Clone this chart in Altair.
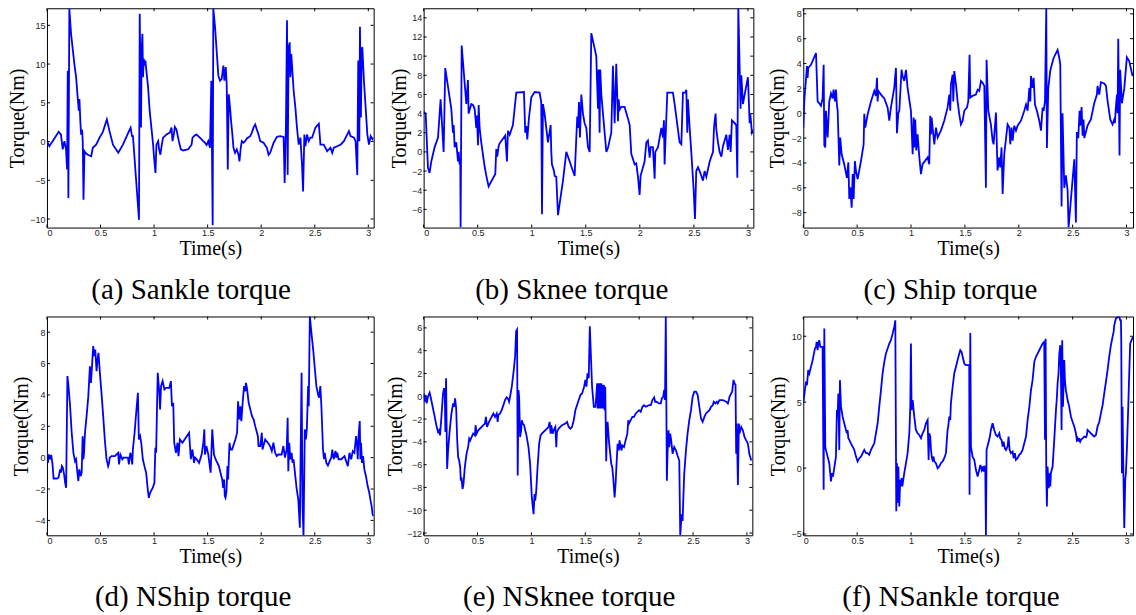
import altair as alt
import pandas as pd

# ---------------- data ----------------
X_TICKS = [0, 0.5, 1, 1.5, 2, 2.5, 3]

A_T = [0,0.022,0.053,0.109,0.131,0.147,0.163,0.178,0.188,0.194,0.2,0.209,0.225,0.256,0.272,0.288,0.297,0.303,0.313,0.319,0.328,0.334,0.341,0.35,0.359,0.381,0.413,0.428,0.459,0.491,0.522,0.559,0.584,0.616,0.666,0.709,0.772,0.781,0.794,0.803,0.859,0.866,0.878,0.884,0.891,0.897,0.903,0.913,0.919,0.928,0.944,0.959,0.975,0.991,1.0,1.013,1.022,1.038,1.047,1.059,1.072,1.084,1.116,1.147,1.163,1.172,1.184,1.194,1.209,1.231,1.25,1.272,1.319,1.35,1.359,1.381,1.397,1.428,1.459,1.475,1.491,1.506,1.522,1.534,1.541,1.547,1.553,1.569,1.584,1.6,1.616,1.631,1.647,1.656,1.669,1.678,1.688,1.697,1.709,1.719,1.731,1.741,1.756,1.772,1.788,1.797,1.809,1.819,1.834,1.85,1.866,1.897,1.913,1.928,1.944,1.959,1.975,1.991,2.022,2.053,2.069,2.084,2.1,2.116,2.147,2.178,2.209,2.219,2.231,2.241,2.247,2.256,2.266,2.272,2.281,2.291,2.303,2.319,2.334,2.35,2.366,2.381,2.391,2.403,2.413,2.428,2.444,2.459,2.475,2.506,2.538,2.553,2.584,2.616,2.647,2.663,2.678,2.709,2.741,2.772,2.819,2.834,2.866,2.881,2.897,2.906,2.916,2.922,2.931,2.938,2.944,2.959,2.975,2.991,3.006,3.022,3.038,3.047]
A_V = [0.05,-0.6,0.05,1.25,0.9,-1.0,0.05,-1.0,-3.6,9.15,-7.3,17.17,13.9,10.0,8.3,5.5,4.0,5.5,2.2,0.9,1.55,0.05,-7.5,-1.25,-1.45,-1.7,-1.9,-0.8,-0.4,0.5,1.25,2.85,1.35,-0.4,-1.45,-0.4,1.55,1.8,0.7,0.7,-10.1,16.5,1.8,11.75,13.9,8.3,10.7,9.8,10.45,9.15,7.0,3.95,1.8,-0.4,-2.1,-4.05,-0.4,0.05,-1.0,-1.7,-0.4,0.5,0.9,1.15,1.8,0.05,0.9,1.9,1.55,0.05,-1.0,-1.15,-1.0,-0.4,0.5,0.8,0.9,0.5,0.05,-0.15,-0.45,0.05,-0.8,7.85,-2.1,-10.8,17.17,14.8,11.75,8.5,7.85,8.1,9.8,7.85,9.6,7.4,-3.6,6.1,4.4,2.65,0.9,-0.8,-1.45,-1.0,-1.7,-2.55,-0.8,0.05,-0.15,0.05,0.4,0.7,1.15,1.8,2.2,1.55,0.9,0.05,-0.15,-0.8,-1.7,-1.45,-0.8,-0.15,0.6,0.7,0.6,-5.35,2.2,15.65,-4.3,12.2,12.8,8.3,11.3,9.15,6.55,4.4,1.8,-0.4,0.5,-3.0,-6.45,0.9,-0.6,0.9,0.05,0.5,0.5,1.8,2.3,-0.4,-0.4,-1.25,-0.8,-1.45,-0.8,-0.6,-0.4,0.05,1.35,0.7,0.5,0.05,-4.3,10.45,0.05,14.8,3.1,11.75,12.2,7.85,4.4,0.9,-0.4,0.7,0.3,0.5]

B_T = [0,0.019,0.04,0.055,0.071,0.102,0.133,0.157,0.185,0.2,0.256,0.271,0.278,0.287,0.302,0.318,0.324,0.333,0.339,0.342,0.352,0.395,0.41,0.416,0.441,0.456,0.472,0.487,0.493,0.503,0.509,0.518,0.533,0.564,0.58,0.601,0.663,0.672,0.681,0.694,0.703,0.755,0.771,0.78,0.796,0.826,0.857,0.928,0.94,0.95,0.959,0.974,0.996,1.027,1.073,1.088,1.095,1.104,1.119,1.15,1.175,1.181,1.187,1.206,1.212,1.227,1.243,1.289,1.32,1.351,1.381,1.397,1.421,1.428,1.437,1.446,1.459,1.474,1.489,1.505,1.52,1.536,1.551,1.597,1.613,1.619,1.628,1.634,1.644,1.659,1.69,1.705,1.736,1.751,1.767,1.782,1.798,1.804,1.813,1.829,1.859,1.89,1.906,1.921,1.952,1.967,1.983,1.998,2.007,2.044,2.06,2.075,2.091,2.1,2.121,2.137,2.143,2.168,2.199,2.214,2.223,2.229,2.254,2.306,2.322,2.368,2.384,2.399,2.421,2.43,2.439,2.445,2.461,2.476,2.498,2.51,2.522,2.538,2.553,2.569,2.584,2.599,2.615,2.646,2.677,2.686,2.692,2.701,2.707,2.723,2.738,2.754,2.769,2.8,2.815,2.831,2.84,2.852,2.877,2.892,2.902,2.911,2.932,2.939,2.954,2.97,3.0,3.016,3.022,3.037,3.05]
B_V = [4.2,4.0,-1.65,-2.2,-1.0,0.5,1.5,5.5,0.0,8.75,4.5,2.0,2.8,0.5,1.0,-1.0,0.0,-1.3,-0.8,-7.9,11.1,5.0,7.5,4.0,5.0,4.9,4.5,2.5,3.8,0.7,4.9,2.5,1.0,-1.5,-2.5,-3.6,-2.3,0.3,-0.5,0.6,0.9,1.7,-1.0,2.2,1.8,2.8,6.2,6.25,2.0,2.7,1.3,3.5,5.7,6.25,6.2,5.2,-6.5,5.0,4.0,1.0,2.8,0.0,-1.3,-2.0,-2.5,-2.6,-6.6,-3.0,0.0,-1.0,-2.0,-2.5,3.7,2.5,5.2,1.5,6.0,4.0,3.0,2.5,0.5,0.0,12.4,10.0,4.5,8.6,2.0,8.6,6.0,4.0,0.0,0.4,2.0,9.0,3.0,9.2,3.2,5.5,4.4,4.7,4.7,3.5,2.8,-0.2,-1.3,-1.2,-2.6,-4.5,-2.5,-1.0,1.0,1.2,-0.6,0.5,0.5,-2.8,0.0,0.5,2.5,1.5,3.3,-1.3,6.2,6.2,5.0,1.0,0.8,6.2,6.2,6.5,2.0,5.5,2.5,0.0,-4.0,-7.0,-2.0,-1.6,-2.0,-2.5,-3.0,-2.0,-2.6,-1.0,0.0,2.5,3.2,4.0,2.4,1.0,0.0,-0.5,0.6,1.8,0.2,1.8,0.0,3.3,3.0,2.8,-2.7,15.0,4.5,8.0,5.0,6.0,7.8,3.0,4.0,2.0,2.3]

C_T = [0,0.009,0.034,0.04,0.046,0.071,0.118,0.133,0.148,0.164,0.179,0.189,0.195,0.204,0.21,0.226,0.241,0.257,0.272,0.281,0.294,0.303,0.312,0.319,0.334,0.343,0.356,0.38,0.405,0.418,0.427,0.436,0.449,0.458,0.467,0.479,0.489,0.504,0.535,0.56,0.566,0.575,0.597,0.628,0.659,0.674,0.684,0.69,0.696,0.721,0.752,0.783,0.798,0.813,0.844,0.86,0.869,0.882,0.891,0.912,0.922,0.937,0.953,0.968,0.999,1.015,1.024,1.03,1.039,1.049,1.061,1.076,1.092,1.107,1.154,1.169,1.178,1.185,1.191,1.2,1.216,1.231,1.247,1.277,1.308,1.339,1.355,1.364,1.37,1.386,1.392,1.401,1.417,1.432,1.448,1.463,1.479,1.494,1.519,1.531,1.543,1.55,1.571,1.602,1.618,1.633,1.649,1.664,1.68,1.695,1.701,1.717,1.741,1.757,1.766,1.788,1.803,1.819,1.828,1.84,1.85,1.865,1.896,1.912,1.921,1.933,1.943,1.958,1.974,1.989,2.02,2.051,2.067,2.082,2.098,2.107,2.113,2.128,2.138,2.15,2.168,2.19,2.206,2.221,2.231,2.243,2.255,2.261,2.274,2.292,2.298,2.323,2.36,2.376,2.385,2.397,2.406,2.422,2.437,2.453,2.462,2.515,2.53,2.539,2.552,2.564,2.57,2.583,2.592,2.601,2.608,2.638,2.669,2.7,2.725,2.731,2.747,2.762,2.793,2.809,2.824,2.849,2.87,2.886,2.892,2.901,2.911,2.917,2.923,2.935,2.941,2.957,2.979,3.003,3.025,3.056]
C_V = [-1.2,0.95,3.8,2.85,3.65,3.9,4.85,0.95,0.8,0.6,1.2,3.9,-2.6,-2.75,0.2,-1.95,0.95,1.6,1.2,1.9,0.95,1.9,0.7,0.2,-4.2,-1.95,-3.3,-4.1,-5.2,-3.95,-6.9,-5.95,-7.6,-4.9,-6.9,-3.85,-4.65,-5.3,-3.85,-2.5,-0.05,-1.15,-0.1,0.95,1.8,1.4,2.85,0.95,1.8,1.5,1.2,0.45,-0.6,0.45,2.05,3.65,-1.6,0.0,0.2,3.5,3.0,2.6,3.5,2.05,0.2,-3.3,-0.35,-2.75,-0.5,-3.0,-1.7,-3.45,-4.9,-4.1,-3.55,-4.1,-0.2,-1.7,-0.35,-1.15,-2.5,-1.15,-1.95,-1.4,-0.6,0.45,1.5,0.2,2.3,3.1,0.95,3.4,2.3,0.95,-0.1,-0.9,-0.6,0.2,0.45,0.95,4.7,1.25,1.4,1.5,1.9,1.8,2.6,2.45,2.2,-6.0,4.3,0.2,-0.9,-2.2,-2.5,0.05,-4.6,-3.55,-4.35,-2.75,-6.5,-3.3,-0.9,-1.15,-2.5,-1.15,-2.2,-1.0,-1.4,-1.0,-0.6,0.2,0.7,0.2,2.05,0.95,3.0,2.05,2.85,0.7,0.2,-0.6,-1.4,0.45,0.2,0.95,8.45,-2.8,2.05,3.4,3.65,4.45,5.1,4.45,3.9,-7.5,0.0,-6.0,-5.0,-6.2,-9.2,-3.7,-8.8,-1.5,-2.0,0.2,-1.0,0.5,-1.8,-0.5,-2.0,-1.0,-0.5,0.8,1.5,2.2,1.5,2.5,2.4,2.2,1.0,-0.5,-0.9,-0.5,-0.8,0.5,1.5,0.0,6.0,-3.4,3.5,0.8,2.0,4.5,4.2,3.0]

D_T = [0,0.009,0.019,0.031,0.04,0.052,0.062,0.093,0.108,0.123,0.13,0.139,0.148,0.16,0.17,0.179,0.191,0.201,0.216,0.231,0.247,0.262,0.272,0.284,0.293,0.302,0.315,0.324,0.333,0.34,0.346,0.355,0.37,0.386,0.401,0.41,0.417,0.426,0.432,0.441,0.451,0.463,0.472,0.481,0.494,0.509,0.525,0.54,0.556,0.571,0.58,0.586,0.602,0.633,0.648,0.664,0.673,0.685,0.704,0.716,0.735,0.756,0.765,0.778,0.787,0.796,0.802,0.818,0.833,0.849,0.858,0.87,0.88,0.895,0.91,0.926,0.941,0.951,0.963,0.988,1.003,1.012,1.019,1.034,1.049,1.056,1.065,1.08,1.096,1.111,1.142,1.157,1.167,1.179,1.188,1.204,1.219,1.228,1.241,1.265,1.296,1.327,1.343,1.358,1.373,1.383,1.398,1.42,1.444,1.451,1.46,1.469,1.475,1.488,1.506,1.528,1.543,1.559,1.574,1.605,1.62,1.636,1.645,1.654,1.66,1.667,1.676,1.685,1.691,1.704,1.713,1.728,1.759,1.775,1.784,1.796,1.806,1.815,1.827,1.84,1.852,1.858,1.867,1.883,1.914,1.929,1.944,1.969,1.975,1.991,2.006,2.012,2.037,2.062,2.083,2.099,2.114,2.13,2.145,2.16,2.191,2.207,2.216,2.222,2.238,2.247,2.253,2.262,2.272,2.284,2.293,2.302,2.315,2.33,2.346,2.361,2.367,2.377,2.386,2.395,2.407,2.417,2.426,2.438,2.444,2.454,2.469,2.485,2.5,2.515,2.531,2.54,2.552,2.562,2.577,2.586,2.593,2.608,2.623,2.639,2.654,2.664,2.67,2.679,2.685,2.694,2.701,2.71,2.722,2.747,2.778,2.793,2.809,2.824,2.84,2.855,2.87,2.886,2.895,2.901,2.91,2.92,2.926,2.932,2.941,2.951,2.963,2.978,2.994,3.009,3.019,3.031,3.04,3.049]
D_V = [0.52,-0.33,0.2,-0.1,0.17,-0.43,-1.33,-1.33,-1.28,-0.75,-0.96,-0.54,-0.64,-1.07,-1.6,-1.92,5.2,4.56,3.28,1.59,0.31,-0.22,-0.1,-0.96,-1.49,-0.75,-1.18,-0.96,1.37,-0.1,0.31,1.59,2.65,3.92,5.83,4.77,5.41,6.47,7.11,6.47,6.9,5.51,6.26,6.68,5.41,4.13,2.65,1.16,-0.1,-0.54,-0.33,0.0,0.1,0.1,0.2,0.31,-0.43,0.2,-0.1,0.0,0.0,0.0,-0.43,0.31,0.1,-0.43,0.52,1.59,2.86,4.13,1.16,1.37,0.95,-0.1,-0.54,-0.96,-2.03,-2.56,-2.24,-1.92,-1.6,0.63,0.31,5.41,4.13,3.07,4.56,4.88,4.35,4.45,4.45,4.88,3.28,3.5,0.95,0.31,0.95,0.1,1.16,0.95,1.27,1.59,-0.1,0.52,-0.33,0.0,-0.1,-0.33,0.2,0.52,0.95,1.8,0.2,0.74,0.2,-0.96,1.8,0.2,-0.1,-0.54,-0.96,-1.39,-1.92,-1.39,-2.45,-2.56,-2.14,-0.54,-1.39,0.95,0.52,0.52,1.16,1.59,3.6,2.44,3.28,2.33,3.5,4.56,4.24,4.77,4.45,3.5,2.65,2.44,2.01,1.37,0.74,0.74,1.59,0.52,1.16,0.95,0.74,0.42,0.95,0.31,0.1,0.2,0.2,0.74,0.31,0.0,0.52,2.54,-0.86,0.95,-0.1,0.31,-0.33,-0.1,-0.96,-1.92,-2.66,-4.47,-0.54,5.41,-3.09,-5.0,1.8,1.16,1.8,4.56,3.28,9.02,7.96,6.9,5.73,4.56,4.03,3.82,4.56,3.28,0.52,-0.1,0.31,-0.33,-0.5,-0.22,0.0,0.52,0.1,-0.1,0.2,0.42,0.0,0.31,-0.1,-0.1,0.1,-0.22,-0.54,0.31,-0.1,0.42,0.31,1.37,0.74,-0.1,1.48,2.33,-0.1,0.95,-0.33,0.1,-0.75,-1.18,-1.81,-2.24,-2.66,-3.09,-3.62,-3.72]

E_T = [0,0.009,0.019,0.028,0.04,0.056,0.071,0.087,0.103,0.118,0.134,0.143,0.152,0.165,0.18,0.19,0.196,0.202,0.208,0.218,0.227,0.242,0.258,0.274,0.283,0.292,0.302,0.311,0.32,0.33,0.339,0.345,0.351,0.361,0.37,0.382,0.398,0.413,0.423,0.432,0.445,0.46,0.476,0.482,0.491,0.507,0.538,0.569,0.578,0.588,0.6,0.615,0.631,0.647,0.662,0.678,0.687,0.693,0.709,0.724,0.74,0.755,0.771,0.786,0.793,0.802,0.818,0.833,0.849,0.858,0.867,0.873,0.88,0.886,0.895,0.905,0.911,0.92,0.933,0.942,0.951,0.957,0.973,0.988,1.004,1.02,1.029,1.035,1.044,1.057,1.072,1.085,1.097,1.113,1.128,1.144,1.159,1.169,1.178,1.184,1.197,1.206,1.222,1.231,1.237,1.253,1.268,1.284,1.315,1.331,1.346,1.362,1.377,1.393,1.408,1.439,1.455,1.47,1.48,1.489,1.501,1.511,1.52,1.532,1.542,1.563,1.579,1.595,1.61,1.616,1.623,1.629,1.635,1.641,1.648,1.654,1.66,1.666,1.672,1.679,1.685,1.694,1.7,1.707,1.719,1.728,1.741,1.75,1.759,1.772,1.781,1.79,1.8,1.812,1.818,1.828,1.837,1.843,1.859,1.874,1.89,1.899,1.905,1.921,1.937,1.952,1.968,1.983,1.999,2.014,2.03,2.045,2.061,2.092,2.108,2.123,2.139,2.148,2.16,2.185,2.201,2.21,2.223,2.232,2.238,2.241,2.247,2.254,2.257,2.263,2.272,2.279,2.288,2.297,2.31,2.325,2.341,2.356,2.372,2.381,2.394,2.403,2.409,2.418,2.434,2.449,2.465,2.481,2.496,2.512,2.527,2.543,2.558,2.574,2.589,2.605,2.62,2.652,2.667,2.683,2.692,2.707,2.72,2.729,2.745,2.776,2.807,2.823,2.832,2.838,2.854,2.863,2.875,2.885,2.894,2.9,2.906,2.916,2.925,2.931,2.947,2.962,2.978,2.993,3.009,3.022,3.04]
E_V = [0.25,-0.48,0.11,-0.63,-0.04,0.31,-0.33,-1.07,-1.81,-2.54,-3.13,-2.99,-3.43,-1.81,0.25,0.7,0.4,-3.13,1.58,-6.37,-4.75,-2.99,-1.51,-0.63,-0.92,-0.19,-1.07,-3.72,-5.34,-5.64,-6.23,-7.41,-7.11,-8.14,-7.7,-6.23,-5.05,-4.46,-3.72,-3.87,-3.58,-3.28,-3.43,-2.54,-3.28,-2.99,-2.69,-2.4,-1.81,-2.69,-2.4,-2.1,-1.81,-1.51,-1.81,-1.51,-2.25,-1.66,-1.51,-1.22,-0.78,-0.33,-0.1,-0.28,-0.48,-0.04,0.84,2.02,3.5,5.7,5.85,-6.96,0.55,-0.04,-3.58,-2.99,-2.1,-2.4,-2.54,-2.99,-3.28,-3.58,-4.46,-5.93,-8.88,-10.35,-8.58,-9.17,-8.44,-6.23,-4.16,-3.43,-3.28,-3.13,-2.99,-2.84,-2.69,-2.25,-3.28,-2.54,-3.28,-2.99,-2.69,-4.46,-3.13,-2.84,-2.69,-2.54,-2.4,-2.25,-2.69,-2.84,-2.69,-2.1,-1.22,-0.33,0.11,0.25,0.55,0.84,1.43,0.84,2.02,1.58,6.15,0.84,-0.92,-0.92,1.14,-1.07,1.14,-1.07,1.14,-1.07,1.14,-1.07,1.0,-1.07,1.0,-1.22,0.84,-5.7,-3.28,-2.25,-3.87,-4.75,-5.93,-6.23,-7.11,-8.88,-7.7,-5.93,-4.16,-4.75,-3.87,-4.46,-4.75,-4.31,-4.46,-3.87,-3.28,-2.1,-2.4,-2.1,-1.81,-1.81,-1.51,-1.37,-1.22,-1.37,-0.92,-0.78,-0.92,-0.78,-0.78,-0.33,-0.1,-0.48,-0.48,-0.63,-0.63,-0.19,-0.04,0.55,-0.33,1.0,7.03,-3.28,-7.41,-5.05,-2.99,-4.46,-3.28,-3.87,-5.05,-4.46,-4.75,-5.2,-5.64,-12.2,-10.35,-10.94,-9.17,-6.82,-4.75,-3.28,-2.1,-1.22,-0.04,0.4,0.4,0.11,-0.92,-1.96,-2.25,-1.81,-1.51,-1.22,-0.92,-0.78,-0.48,-0.63,-0.48,-0.63,-0.33,-0.33,-0.48,-0.63,-0.33,-0.04,0.25,0.4,1.43,1.14,1.0,-5.05,-2.4,-7.79,-2.4,-3.28,-2.69,-2.99,-3.58,-3.87,-4.16,-5.05,-5.64]

F_T = [0,0.009,0.019,0.025,0.034,0.046,0.056,0.071,0.087,0.102,0.108,0.118,0.124,0.133,0.139,0.148,0.158,0.164,0.179,0.189,0.195,0.204,0.21,0.226,0.241,0.257,0.266,0.275,0.285,0.294,0.303,0.312,0.319,0.325,0.334,0.34,0.35,0.365,0.38,0.396,0.405,0.411,0.418,0.427,0.442,0.458,0.473,0.489,0.504,0.52,0.535,0.551,0.566,0.582,0.597,0.612,0.628,0.643,0.659,0.674,0.69,0.705,0.721,0.736,0.752,0.767,0.783,0.798,0.813,0.829,0.844,0.854,0.863,0.869,0.875,0.882,0.891,0.9,0.906,0.912,0.919,0.928,0.937,0.953,0.968,0.984,0.993,0.999,1.005,1.015,1.024,1.03,1.045,1.061,1.076,1.092,1.107,1.123,1.138,1.154,1.163,1.169,1.178,1.185,1.194,1.2,1.209,1.216,1.231,1.247,1.262,1.277,1.293,1.308,1.324,1.339,1.345,1.355,1.364,1.37,1.386,1.401,1.417,1.432,1.448,1.457,1.469,1.479,1.494,1.509,1.525,1.54,1.543,1.55,1.556,1.571,1.587,1.602,1.618,1.633,1.643,1.655,1.664,1.673,1.68,1.689,1.695,1.701,1.717,1.732,1.741,1.757,1.772,1.788,1.803,1.819,1.828,1.84,1.85,1.859,1.871,1.881,1.896,1.905,1.915,1.927,1.943,1.952,1.964,1.973,1.989,2.004,2.02,2.035,2.051,2.067,2.082,2.098,2.113,2.128,2.144,2.159,2.174,2.19,2.205,2.221,2.236,2.243,2.249,2.255,2.261,2.267,2.277,2.286,2.292,2.298,2.314,2.329,2.345,2.354,2.36,2.369,2.376,2.385,2.391,2.397,2.403,2.41,2.416,2.422,2.428,2.437,2.453,2.468,2.484,2.499,2.515,2.53,2.539,2.546,2.555,2.561,2.57,2.577,2.592,2.608,2.623,2.632,2.638,2.654,2.669,2.685,2.7,2.716,2.731,2.747,2.762,2.778,2.793,2.809,2.824,2.839,2.855,2.87,2.88,2.886,2.901,2.917,2.932,2.942,2.948,2.951,2.957,2.963,2.969,2.979,2.988,2.994,3.003,3.016,3.025,3.034,3.047,3.059]
F_V = [4.91,5.54,6.17,6.55,6.29,7.43,7.18,7.68,8.19,8.82,9.07,9.19,9.57,8.94,9.45,9.7,9.19,9.19,9.19,-1.65,10.58,1.63,1.38,0.87,0.37,-1.02,-0.39,-0.64,-0.13,0.37,0.87,4.4,3.9,5.66,1.38,6.67,4.66,3.9,3.4,2.89,2.64,2.89,2.26,2.14,1.88,1.63,1.38,0.87,0.5,0.75,0.87,1.13,1.38,1.13,1.13,1.0,1.38,1.63,1.88,2.64,3.4,4.66,5.91,7.18,8.06,8.69,9.07,9.45,9.7,10.2,10.71,11.21,-3.28,0.37,-2.65,0.12,-2.91,-0.89,-1.39,-0.76,-1.39,-0.89,-0.39,0.37,1.13,2.64,4.66,9.45,4.4,5.16,4.4,3.9,2.89,2.64,2.51,2.26,2.64,2.89,3.4,3.65,0.62,2.64,2.39,1.38,0.75,0.62,0.87,0.5,0.37,-0.01,0.12,0.37,0.5,0.75,1.13,2.89,3.15,3.9,3.65,4.91,6.17,7.18,7.68,8.19,8.69,8.94,8.82,8.44,7.93,7.81,7.81,7.81,-2.02,10.25,1.63,0.87,0.62,-0.13,-0.64,-0.13,0.24,-0.13,0.12,-0.26,0.17,-0.13,-5.12,1.38,1.88,2.39,2.89,3.4,2.89,2.51,2.39,2.64,2.26,2.14,1.63,2.01,1.5,1.38,1.63,2.39,1.38,1.13,1.25,0.75,1.13,0.62,0.75,1.0,1.13,1.38,1.88,2.39,3.65,4.66,5.91,6.67,8.06,8.44,8.69,8.94,9.19,9.45,9.57,2.14,9.82,-0.39,-2.91,0.12,-1.52,-0.39,-1.39,-0.39,0.12,2.14,4.4,5.41,6.42,7.18,8.69,9.32,7.18,2.89,9.7,4.66,6.42,8.19,6.67,5.91,5.16,4.66,3.9,3.52,3.15,2.64,2.14,2.26,2.01,2.26,2.01,2.14,2.26,2.39,2.34,2.51,2.89,2.76,2.64,2.51,2.39,2.51,3.15,3.52,4.15,4.78,5.66,6.55,7.43,8.44,9.32,9.95,10.33,10.83,11.34,11.46,11.46,11.21,11.21,9.7,-0.39,4.66,0.5,-4.55,-0.89,-0.39,1.38,4.66,7.18,9.45,9.7,9.95]

CAPTIONS = ["(a) Sankle torque", "(b) Sknee torque", "(c) Ship torque",
            "(d) NShip torque", "(e) NSknee torque", "(f) NSankle torque"]
Y_DOMAINS = [[-11.1, 17.2], [-7.9, 15.0], [-9.2, 8.45],
             [-4.95, 9.0], [-12.2, 7.0], [-5.1, 11.5]]
Y_TICKS = [[-10, -5, 0, 5, 10, 15],
           [-6, -4, -2, 0, 2, 4, 6, 8, 10, 12, 14],
           [-8, -6, -4, -2, 0, 2, 4, 6, 8],
           [-4, -2, 0, 2, 4, 6, 8],
           [-12, -10, -8, -6, -4, -2, 0, 2, 4, 6],
           [-5, 0, 5, 10]]
X_MAX = [3.05, 3.05, 3.06, 3.05, 3.05, 3.06]
SERIES = [(A_T, A_V), (B_T, B_V), (C_T, C_V), (D_T, D_V), (E_T, E_V), (F_T, F_V)]

# ---------------- layout / style ----------------
WIDTHS = [327, 330, 330, 327, 329, 330]
HEIGHTS = [219.5, 219.5, 219.5, 219, 219, 219]
YTITLE_X = [-29, -24, -26, -25, -28, -25]   # offset of the y title centre from the axis
TICK_LEN = 3
SERIF = "Liberation Serif"
SANS = "Liberation Sans"
LABEL_EXPR = "format(datum.value, '')"


def panel(i):
    t, v = SERIES[i]
    w, h = WIDTHS[i], HEIGHTS[i]
    xs = alt.Scale(domain=[0, X_MAX[i]], nice=False, zero=False)
    ys = alt.Scale(domain=Y_DOMAINS[i], nice=False, zero=False)
    df = pd.DataFrame({"t": t, "v": v, "i": range(len(t))})
    line = alt.Chart(df).mark_line(color="#0000FF", strokeWidth=1.8, clip=True).encode(
        x=alt.X("t:Q", scale=xs,
                axis=alt.Axis(values=X_TICKS, tickCount=40, labelExpr=LABEL_EXPR,
                              title="Time(s)", labelOverlap=False)),
        y=alt.Y("v:Q", scale=ys,
                axis=alt.Axis(values=Y_TICKS[i], tickCount=40, labelExpr=LABEL_EXPR,
                              title="Torque(Nm)", labelOverlap=False,
                              titleX=YTITLE_X[i], titleBaseline="middle")),
        order="i:Q",
    )
    # inward MATLAB-style ticks on all four sides (same fields -> shared scales/axes)
    xt = pd.DataFrame({"t": X_TICKS})
    yt = pd.DataFrame({"v": Y_TICKS[i]})
    tick_x_bot = alt.Chart(xt).mark_rule(color="black", strokeWidth=1).encode(
        x=alt.X("t:Q", scale=xs), y=alt.value(h), y2=alt.value(h - TICK_LEN))
    tick_x_top = alt.Chart(xt).mark_rule(color="black", strokeWidth=1).encode(
        x=alt.X("t:Q", scale=xs), y=alt.value(0), y2=alt.value(TICK_LEN))
    tick_y_left = alt.Chart(yt).mark_rule(color="black", strokeWidth=1).encode(
        y=alt.Y("v:Q", scale=ys), x=alt.value(0), x2=alt.value(TICK_LEN))
    tick_y_right = alt.Chart(yt).mark_rule(color="black", strokeWidth=1).encode(
        y=alt.Y("v:Q", scale=ys), x=alt.value(w - TICK_LEN), x2=alt.value(w))
    return alt.layer(line, tick_x_bot, tick_x_top, tick_y_left, tick_y_right).properties(
        width=w, height=h,
        title=alt.TitleParams(CAPTIONS[i], orient="bottom", anchor="middle",
                              frame="bounds", offset=17),
    )


chart = alt.concat(*[panel(i) for i in range(6)], columns=3,
                   spacing={"row": 88.5, "column": 50}, bounds="flush").properties(
    padding={"left": 7, "top": 7, "right": 2, "bottom": 2},
    background="white",
).configure_view(
    stroke="black", strokeWidth=1
).configure_axis(
    grid=False, domain=False, ticks=False, tickSize=0, labelOverlap=False,
    labelFont=SANS, labelFontSize=9, labelColor="#222",
    titleFont=SERIF, titleFontSize=20, titleFontWeight="normal", titleColor="black",
).configure_axisX(
    labelPadding=1, titlePadding=1,
).configure_axisY(
    labelPadding=2,
).configure_title(
    font=SERIF, fontSize=29, fontWeight="normal", color="black",
)

chart.save("out.html", embed_options={"renderer": "svg", "actions": False})
